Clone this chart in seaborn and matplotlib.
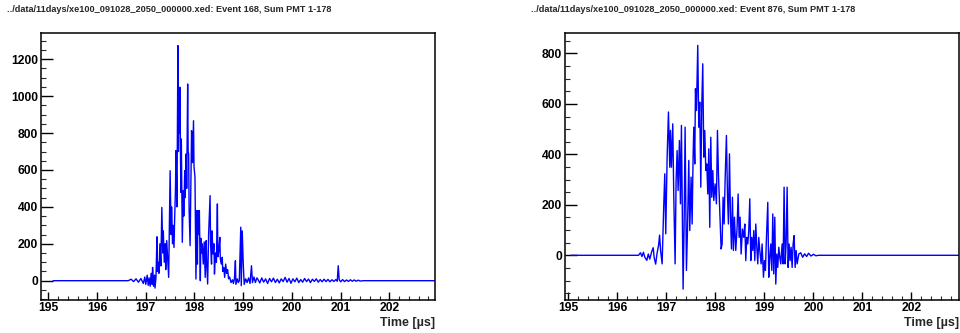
import numpy as np
import pandas as pd
import matplotlib
matplotlib.use("Agg")
import matplotlib.pyplot as plt
from matplotlib.ticker import MultipleLocator
import seaborn as sns

sns.set_style("white")
plt.rcParams['font.family'] = ['Liberation Sans', 'DejaVu Sans']

# ---------------- data ----------------
title_left = "../data/11days/xe100_091028_2050_000000.xed: Event 168, Sum PMT 1-178"
title_right = "../data/11days/xe100_091028_2050_000000.xed: Event 876, Sum PMT 1-178"
xlabel = "Time [\u00b5s]"

left_time = [195.10, 196.64, 196.70, 196.75, 196.80, 196.85, 196.90, 196.95, 196.98, 197.00,
             197.03, 197.05, 197.07, 197.09, 197.11, 197.13, 197.14, 197.16, 197.18, 197.19,
             197.21, 197.23, 197.24, 197.26, 197.27, 197.29, 197.31, 197.33, 197.35, 197.36,
             197.38, 197.40, 197.41, 197.43, 197.45, 197.47, 197.48, 197.50, 197.52, 197.53,
             197.55, 197.56, 197.58, 197.59, 197.61, 197.62, 197.64, 197.66, 197.67, 197.68,
             197.69, 197.70, 197.71, 197.72, 197.73, 197.75, 197.77, 197.78, 197.80, 197.81,
             197.83, 197.84, 197.86, 197.87, 197.88, 197.89, 197.91, 197.93, 197.94, 197.96,
             197.98, 197.99, 198.01, 198.02, 198.03, 198.05, 198.06, 198.07, 198.09, 198.10,
             198.12, 198.13, 198.14, 198.16, 198.18, 198.20, 198.22, 198.24, 198.25, 198.27,
             198.29, 198.32, 198.33, 198.35, 198.36, 198.38, 198.40, 198.41, 198.43, 198.45,
             198.47, 198.48, 198.50, 198.52, 198.53, 198.55, 198.57, 198.58, 198.60, 198.62,
             198.64, 198.66, 198.68, 198.70, 198.72, 198.75, 198.78, 198.80, 198.82, 198.84,
             198.85, 198.88, 198.90, 198.92, 198.95, 198.96, 198.98, 199.00, 199.02, 199.05,
             199.08, 199.11, 199.14, 199.17, 199.19, 199.22, 199.25, 199.28,
             199.30, 199.34, 199.38, 199.42, 199.46, 199.50, 199.54, 199.58, 199.62, 199.66,
             199.70, 199.74, 199.78, 199.82, 199.86, 199.90, 199.94, 199.98, 200.02, 200.06,
             200.10, 200.14, 200.18, 200.22, 200.26, 200.30, 200.34, 200.38, 200.42, 200.46,
             200.50, 200.54, 200.58, 200.62, 200.66, 200.70, 200.74, 200.78, 200.82, 200.86,
             200.90, 200.93, 200.95, 200.97, 201.00, 201.04, 201.08, 201.12, 201.16, 201.20,
             201.24, 201.28, 201.32, 201.36, 201.40, 201.46, 203.00]
left_value = [0, 0, 8, -5, 10, -8, 12, -15, 20, -20,
              30, -25, 15, -30, 40, -20, 72, -30, 30, -40,
              20, 238, 50, 100, 40, 200, 80, 397, 150, 270,
              100, 200, 60, 217, 120, 18, 200, 596, 250, 400,
              200, 300, 180, 307, 500, 705, 400, 1274, 700, 1048,
              800, 1048, 750, 479, 768, 208, 488, 350, 596, 450,
              687, 500, 1066, 700, 687, 380, 190, 600, 813, 640,
              867, 620, 560, 300, 9, 380, 90, 380, 250, 380,
              0, 230, 150, 200, 90, 210, 18, 217, 100, -18,
              250, 461, 200, 90, 270, 145, 200, 36, 150, 100,
              416, 130, 163, 235, 120, 90, 127, 50, 72, 18,
              90, 40, 60, 10, 20, -10, 5, -15, 10, 108,
              -20, 10, -10, 0, 290, -27, 270, 100, -20, 10,
              -10, 15, -15, 81, -10, 20, -10, 15,
              8, -12, 15, -8, 10, -15, 12, -6, 14, -10,
              8, -12, 10, -5, 18, -8, 12, -14, 10, -6,
              14, -10, 6, -8, 12, -5, 9, -10, 8, -4,
              10, -8, 6, -6, 8, -5, 7, -6, 5, -4,
              6, -3, 81, 5, -6, 6, -5, 4, -4, 5,
              -3, 4, -3, 3, -2, 0, 0]

right_time = [195.05, 196.43, 196.47, 196.50, 196.53, 196.56, 196.60, 196.63, 196.66, 196.70,
              196.73, 196.75, 196.78, 196.81, 196.84, 196.86, 196.88,
              196.912, 196.946, 196.966, 196.986, 197.014, 197.041, 197.068, 197.082, 197.102, 197.129,
              197.150, 197.177, 197.197, 197.218, 197.238, 197.265, 197.286, 197.306, 197.327, 197.340,
              197.361, 197.381, 197.408, 197.429, 197.456, 197.476, 197.503, 197.524, 197.544, 197.558,
              197.578, 197.592, 197.612, 197.639, 197.660, 197.680, 197.701, 197.721, 197.741, 197.762,
              197.782, 197.803, 197.823, 197.844, 197.864, 197.884, 197.905, 197.925, 197.946, 197.966,
              197.993, 198.020, 198.041, 198.061, 198.088, 198.116, 198.136, 198.156, 198.177, 198.197,
              198.224, 198.245, 198.265, 198.286, 198.306, 198.327, 198.347, 198.367, 198.388, 198.415,
              198.442, 198.463, 198.483, 198.503, 198.524, 198.551, 198.578, 198.599, 198.619, 198.639,
              198.660, 198.680, 198.701, 198.721, 198.741, 198.762, 198.782, 198.803, 198.823, 198.844,
              198.864, 198.884, 198.905, 198.932, 198.952, 198.980, 199.000, 199.020, 199.041, 199.068,
              199.088, 199.109, 199.129, 199.150, 199.170, 199.190, 199.211, 199.231, 199.252, 199.272,
              199.293, 199.313, 199.333, 199.361, 199.381, 199.401, 199.422, 199.442, 199.463, 199.483,
              199.503, 199.524, 199.544, 199.565, 199.585, 199.605, 199.626, 199.646, 199.667, 199.701,
              199.74, 199.78, 199.82, 199.86, 199.90, 199.95, 200.00, 200.05, 200.10, 203.00]
right_value = [0, 0, 10, -5, 12, -8, -20, 5, -15, 15,
               30, -10, -35, 10, 40, 80, 20,
               -34, 204, 323, 85, 389, 568, 349, 495, 349, 521,
               230, -34, 296, 415, 257, 455, 204, 515, 98, -134,
               124, 508, -60, 98, 376, 98, 310, 124, 389, 508,
               362, 660, 574, 832, 508, 607, 270, 594, 759, 389,
               495, 336, 362, 243, 422, 111, 468, 230, 336, 217,
               283, 204, 495, 323, 177, 25, 45, 230, 124, 296,
               475, 243, 124, 402, 164, 25, 230, 19, 151, 19,
               111, 243, 71, 151, 5, 104, 71, 124, -21, 71,
               45, 98, 224, -21, 71, 19, 98, -21, 124, 32,
               -34, 71, 19, -34, 45, -87, -21, -60, 71, 210,
               -87, -8, 45, -60, 164, -74, 151, -114, 5, -48,
               32, -8, -34, 45, -34, 270, -34, 45, 270, -48,
               45, -21, 32, -48, 45, 78, -48, 19, -34, 5,
               10, -8, 6, -5, 8, -3, 4, -2, 0, 0]

panels = [
    dict(time=left_time, value=left_value, title=title_left,
         xlim=(194.85, 202.93), ylim=(-103, 1345)),
    dict(time=right_time, value=right_value, title=title_right,
         xlim=(194.93, 202.97), ylim=(-176, 883)),
]

# ---------------- figure ----------------
fig = plt.figure(figsize=(9.6, 3.33), dpi=100)
fig.patch.set_facecolor("white")
axes_rects = [[41 / 960, 0.1, 393.7 / 960, 0.8024],
              [565 / 960, 0.1, 394 / 960, 0.8024]]
title_x = [7 / 960, 531 / 960]

for p, rect, tx in zip(panels, axes_rects, title_x):
    ax = fig.add_axes(rect)
    df = pd.DataFrame({"t": p["time"], "v": p["value"]})
    sns.lineplot(data=df, x="t", y="v", ax=ax, color="#0000ff", lw=1.0,
                 estimator=None, sort=False)
    ax.set_xlim(*p["xlim"])
    ax.set_ylim(*p["ylim"])
    ax.set_xlabel("")
    ax.set_ylabel("")
    ax.xaxis.set_major_locator(MultipleLocator(1))
    ax.xaxis.set_minor_locator(MultipleLocator(0.2))
    ax.yaxis.set_major_locator(MultipleLocator(200))
    ax.yaxis.set_minor_locator(MultipleLocator(50))
    ax.tick_params(axis="y", which="major", direction="in", length=8.5, width=1.0,
                   pad=2, labelsize=8.7, colors="black", left=True)
    ax.tick_params(axis="y", which="minor", direction="in", length=3.8, width=0.8, left=True)
    ax.tick_params(axis="x", which="major", direction="in", length=5.8, width=1.0,
                   pad=2, labelsize=8.7, colors="black", bottom=True)
    ax.tick_params(axis="x", which="minor", direction="in", length=3.0, width=0.8, bottom=True)
    for lab in ax.get_xticklabels() + ax.get_yticklabels():
        lab.set_fontweight("bold")
    for s in ax.spines.values():
        s.set_color("black")
        s.set_linewidth(1.1)
    fig.text(tx, 1 - 10 / 333, p["title"], fontsize=6.6, fontweight="bold",
             ha="left", va="center")
    ax.text(1.0, -0.065, xlabel, transform=ax.transAxes, ha="right", va="top",
            fontsize=9, fontweight="bold")

fig.savefig("out.png", dpi=100, facecolor="white")
